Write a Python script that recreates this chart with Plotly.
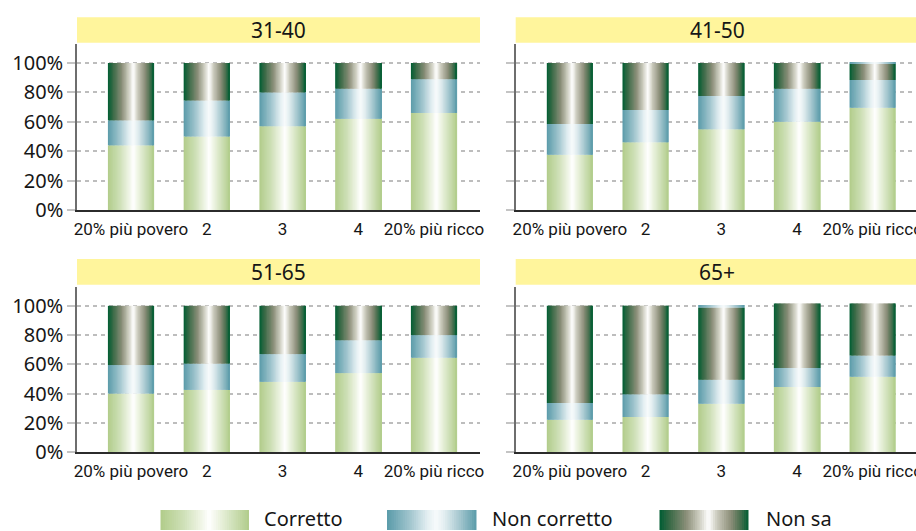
import plotly.graph_objects as go

# ---------------------------------------------------------------- data
categories = ["20% più povero", "2", "3", "4", "20% più ricco"]
age_groups = ["31-40", "41-50", "51-65", "65+"]
legend_names = ["Corretto", "Non corretto", "Non sa"]

corretto_31_40 = [44, 50, 57, 62, 66]
non_corretto_31_40 = [17, 24.5, 23, 20.5, 23]
non_sa_31_40 = [39, 25.5, 20, 17.5, 11]
altro_31_40 = [0, 0, 0, 0, 0]

corretto_41_50 = [37.5, 46, 55, 60, 69.5]
non_corretto_41_50 = [21, 22, 22.5, 22.5, 19]
non_sa_41_50 = [41.5, 32, 22.5, 17.5, 11]
altro_41_50 = [0, 0, 0, 0, 0.5]

corretto_51_65 = [40, 42.5, 48, 54, 64.5]
non_corretto_51_65 = [19.5, 18, 19, 22.5, 15.5]
non_sa_51_65 = [40.5, 39.5, 33, 23.5, 20]
altro_51_65 = [0, 0, 0, 0, 0]

corretto_65 = [22, 24, 33, 44.5, 51.5]
non_corretto_65 = [11.5, 15.5, 16.5, 13, 14.5]
non_sa_65 = [66.5, 60.5, 49.3, 44.1, 35.6]
altro_65 = [0, 0, 1.8, 0, 0]

y_ticks = [0, 20, 40, 60, 80, 100]

# ---------------------------------------------------------------- styling
W, H = 916, 531
FONT = "Noto Sans"
NARROW = "Roboto, Noto Sans"
TXT = "#161616"
BAND = "#fff59c"

# horizontal gradients (position across the bar -> colour)
GRAD = {
    "Corretto": [(0, "#b1cc8a"), (0.25, "#cddfb5"), (0.45, "#eef4e4"),
                 (0.55, "#ffffff"), (0.65, "#eef4e3"), (0.82, "#cfe0b8"), (1, "#b1cc8a")],
    "Non corretto": [(0, "#5a9ba9"), (0.25, "#9fc4cd"), (0.45, "#e2eef1"),
                     (0.55, "#f8fbfc"), (0.65, "#e0ecef"), (0.82, "#a2c5cd"), (1, "#5a9ba9")],
    "Non sa": [(0, "#005d33"), (0.12, "#3c6b48"), (0.3, "#8a8e78"), (0.45, "#cfcfc2"),
               (0.55, "#ffffff"), (0.65, "#c9c9bb"), (0.8, "#8d8f7a"), (0.9, "#4f7252"), (1, "#005d33")],
}


def hex2rgb(h):
    h = h.lstrip("#")
    return tuple(int(h[i:i + 2], 16) for i in (0, 2, 4))


def grad_color(stops, t):
    for (t0, c0), (t1, c1) in zip(stops, stops[1:]):
        if t0 <= t <= t1:
            f = 0 if t1 == t0 else (t - t0) / (t1 - t0)
            a, b = hex2rgb(c0), hex2rgb(c1)
            r = [round(a[i] + (b[i] - a[i]) * f) for i in range(3)]
            return "rgb({},{},{})".format(*r)
    return stops[-1][1]


panel_series = {
    "31-40": [corretto_31_40, non_corretto_31_40, non_sa_31_40, altro_31_40],
    "41-50": [corretto_41_50, non_corretto_41_50, non_sa_41_50, altro_41_50],
    "51-65": [corretto_51_65, non_corretto_51_65, non_sa_51_65, altro_51_65],
    "65+": [corretto_65, non_corretto_65, non_sa_65, altro_65],
}
series_style = ["Corretto", "Non corretto", "Non sa", "Non corretto"]
series_label = legend_names + ["Altro"]

BAR_W = 0.61
N_STRIPS = 36
step = BAR_W / N_STRIPS

fig = go.Figure()

# each stacked segment is drawn as thin vertical strips so it carries a horizontal gradient
for p, group in enumerate(age_groups):
    ax = "" if p == 0 else str(p + 1)
    bases = [0] * len(categories)
    for s, vals in enumerate(panel_series[group]):
        stops = GRAD[series_style[s]]
        for k in range(N_STRIPS):
            t = (k + 0.5) / N_STRIPS
            fig.add_trace(go.Bar(
                x=categories, y=vals, base=list(bases),
                offset=-BAR_W / 2 + k * step,
                width=step * (1.6 if k < N_STRIPS - 1 else 1.0),
                marker=dict(color=grad_color(stops, t), line=dict(width=0)),
                name=series_label[s], legendgroup=series_label[s],
                showlegend=False, hoverinfo="skip",
                xaxis="x" + ax, yaxis="y" + ax,
            ))
        bases = [b + v for b, v in zip(bases, vals)]

# ---------------------------------------------------------------- layout
def px_x(v):
    return v / W


def px_y(v):
    return (H - v) / H


left_dom = [px_x(77), px_x(480)]
right_dom = [px_x(515.7), 1.0]
top_dom = [px_y(210), px_y(44)]
bot_dom = [px_y(452), px_y(287)]
x_range_left = [-0.713, 4.607]
x_range_right = [-0.716, 4.573]

doms = [(left_dom, top_dom, x_range_left), (right_dom, top_dom, x_range_right),
        (left_dom, bot_dom, x_range_left), (right_dom, bot_dom, x_range_right)]

layout = dict(
    width=W, height=H, margin=dict(l=0, r=0, t=0, b=0, autoexpand=False),
    paper_bgcolor="white", plot_bgcolor="white",
    barmode="overlay", showlegend=False,
    font=dict(family=FONT, color=TXT),
)

for p, (xd, yd, xr) in enumerate(doms):
    ax = "" if p == 0 else str(p + 1)
    layout["xaxis" + ax] = dict(
        domain=xd, anchor="y" + ax, range=xr, type="category",
        categoryorder="array", categoryarray=categories,
        showline=True, linecolor="#2b2b2b", linewidth=2,
        showgrid=False, zeroline=False, automargin=False, tickangle=0,
        ticks="outside", ticklen=3, tickcolor="rgba(0,0,0,0)",
        tickfont=dict(family=NARROW, size=17, color=TXT),
    )
    layout["yaxis" + ax] = dict(
        domain=yd, anchor="x" + ax, range=[0, 112.9], automargin=False,
        tickvals=y_ticks, ticktext=[f"{v}%" for v in y_ticks],
        showticklabels=(p % 2 == 0),
        showline=True, linecolor="#6e6e6e", linewidth=1.5,
        showgrid=True, gridcolor="#bdbdbd", gridwidth=1.5, griddash="4px,4px",
        zeroline=False,
        ticks="outside", ticklen=8, tickcolor="#c4c4c4", tickwidth=1.5,
        tickfont=dict(family=FONT, size=20, color=TXT),
    )

shapes = []
annotations = []

# yellow title bands above each panel
band_rows = {0: (17.3, 42.7), 1: (17.3, 42.7), 2: (259, 284.7), 3: (259, 284.7)}
for p, group in enumerate(age_groups):
    xd = doms[p][0]
    y0, y1 = band_rows[p]
    shapes.append(dict(type="rect", xref="paper", yref="paper",
                       x0=xd[0], x1=xd[1], y0=px_y(y1), y1=px_y(y0),
                       fillcolor=BAND, line=dict(width=0), layer="below"))
    cx = (xd[0] + xd[0] + px_x(403)) / 2
    annotations.append(dict(text=group, xref="paper", yref="paper",
                            x=cx, y=px_y((y0 + y1) / 2), xanchor="center", yanchor="middle",
                            showarrow=False, font=dict(family=FONT, size=21, color=TXT)))

# gradient legend swatches
legend_items = [("Corretto", 160.5, 249, 262), ("Non corretto", 387, 476.5, 490),
                ("Non sa", 659.5, 748.5, 763.5)]
N_LEG = 40
for name, sx0, sx1, tx in legend_items:
    stops = GRAD[name]
    sw = (sx1 - sx0) / N_LEG
    for k in range(N_LEG):
        t = (k + 0.5) / N_LEG
        shapes.append(dict(type="rect", xref="paper", yref="paper",
                           x0=px_x(sx0 + k * sw), x1=px_x(min(sx1, sx0 + (k + 1.5) * sw)),
                           y0=px_y(530), y1=px_y(510),
                           fillcolor=grad_color(stops, t), line=dict(width=0)))
    annotations.append(dict(text=name, xref="paper", yref="paper",
                            x=px_x(tx), y=px_y(518.5), xanchor="left", yanchor="middle",
                            showarrow=False, font=dict(family=FONT, size=20, color=TXT)))

layout["shapes"] = shapes
layout["annotations"] = annotations
fig.update_layout(**layout)

fig.write_html("out.html")
